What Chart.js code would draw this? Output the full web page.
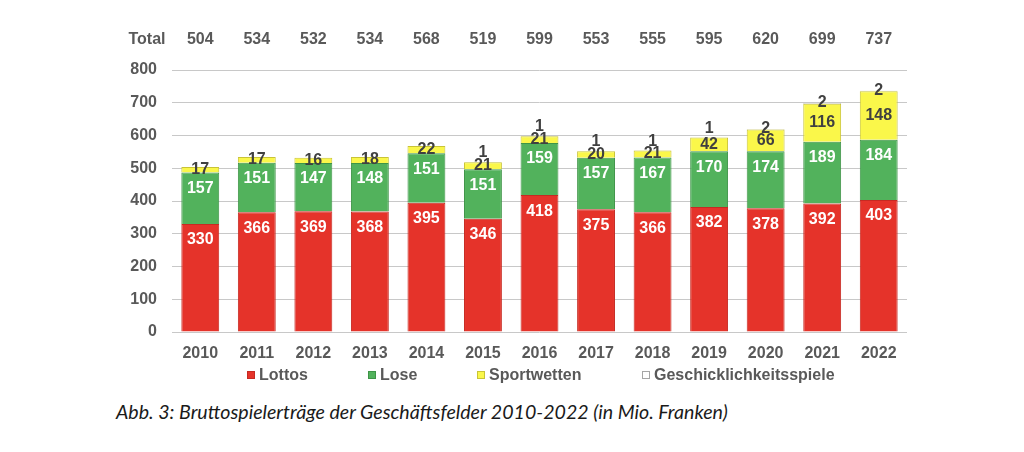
<!DOCTYPE html>
<html lang="de">
<head>
    <meta charset="UTF-8">
    <title>Bruttospielerträge der Geschäftsfelder</title>
    <script src="https://cdn.jsdelivr.net/npm/chart.js"></script>
    <style>
        body { margin: 0; background: #fff; }
        #wrap { position: relative; width: 1024px; height: 395px; }
        .caption {
            position: absolute; left: 116px; top: 400px;
            font-family: Lato, "Open Sans", sans-serif; font-style: italic;
            font-size: 19.6px; color: #1a1a1a; white-space: nowrap;
        }
    </style>
</head>
<body>
    <div id="wrap"><canvas id="chart"></canvas></div>
    <div class="caption">Abb. 3: Bruttospielerträge der Geschäftsfelder 2010-2022 (in Mio. Franken)</div>
    <script>
        const years = ['2010', '2011', '2012', '2013', '2014', '2015', '2016', '2017', '2018', '2019', '2020', '2021', '2022'];
        const lottos = [330, 366, 369, 368, 395, 346, 418, 375, 366, 382, 378, 392, 403];
        const lose = [157, 151, 147, 148, 151, 151, 159, 157, 167, 170, 174, 189, 184];
        const sportwetten = [17, 17, 16, 18, 22, 21, 21, 20, 21, 42, 66, 116, 148];
        const geschick = [0, 0, 0, 0, 0, 1, 1, 1, 1, 1, 2, 2, 2];
        const totals = [504, 534, 532, 534, 568, 519, 599, 553, 555, 595, 620, 699, 737];
        const yTicks = [0, 100, 200, 300, 400, 500, 600, 700, 800];

        const FONT = '"Liberation Sans", Arial, sans-serif';
        const GREY = '#595959';

        const series = [
            { label: 'Lottos', data: lottos, bg: '#E5332A', border: '#C62A22', text: '#ffffff' },
            { label: 'Lose', data: lose, bg: '#52B25C', border: '#3E9447', text: '#ffffff' },
            { label: 'Sportwetten', data: sportwetten, bg: '#FAF74A', border: '#C9C436', text: '#404040' },
            { label: 'Geschicklichkeitsspiele', data: geschick, bg: '#FFFFFF', border: '#A6A6A6', text: '#404040' }
        ];

        // value labels, totals row and legend
        const labelsPlugin = {
            id: 'labels',
            afterDatasetsDraw(chart) {
                const ctx = chart.ctx;
                const x = chart.scales.x;
                ctx.save();
                ctx.font = 'bold 16px ' + FONT;
                ctx.textAlign = 'center';
                ctx.textBaseline = 'middle';
                chart.data.datasets.forEach((ds, d) => {
                    const meta = chart.getDatasetMeta(d);
                    meta.data.forEach((bar, i) => {
                        const v = ds.data[i];
                        if (!v) return;
                        let y;
                        if (d < 2) y = bar.y + 16;
                        else if (d === 2) y = (bar.y + bar.base) / 2;
                        else y = bar.y - (sportwetten[i] < 50 ? 9 : 0);
                        ctx.fillStyle = series[d].text;
                        ctx.fillText(v, bar.x, y);
                    });
                });
                // totals row
                ctx.fillStyle = GREY;
                ctx.fillText('Total', 147, 40);
                totals.forEach((t, i) => ctx.fillText(t, x.getPixelForValue(i), 40));
                // legend
                const legendX = [247, 368, 477, 642];
                ctx.textAlign = 'left';
                series.forEach((s, i) => {
                    ctx.fillStyle = s.bg;
                    ctx.strokeStyle = s.border;
                    ctx.lineWidth = 1;
                    ctx.fillRect(legendX[i], 371, 8, 8);
                    ctx.strokeRect(legendX[i] + 0.5, 371.5, 7, 7);
                    ctx.fillStyle = GREY;
                    ctx.fillText(s.label, legendX[i] + 12, 376);
                });
                ctx.restore();
            }
        };

        new Chart(document.getElementById('chart'), {
            type: 'bar',
            data: {
                labels: years,
                datasets: series.map(s => ({
                    label: s.label,
                    data: s.data,
                    backgroundColor: s.bg,
                    borderColor: s.border,
                    borderWidth: 1,
                    barPercentage: 0.67,
                    categoryPercentage: 1
                }))
            },
            options: {
                responsive: true,
                maintainAspectRatio: false,
                animation: false,
                layout: { padding: { left: 0, right: 117, top: 70, bottom: 23 } },
                plugins: {
                    legend: { display: false },
                    tooltip: { enabled: false }
                },
                scales: {
                    x: {
                        stacked: true,
                        grid: { display: false },
                        border: { display: false },
                        ticks: { color: GREY, font: { family: FONT, size: 16, weight: 'bold' }, padding: 4 },
                        afterFit: s => { s.height = 40; }
                    },
                    y: {
                        stacked: true,
                        min: 0,
                        max: 800,
                        afterBuildTicks: s => { s.ticks = yTicks.map(v => ({ value: v })); },
                        grid: { color: '#C8C8C8', lineWidth: 1, drawTicks: false },
                        border: { display: false },
                        ticks: { color: GREY, font: { family: FONT, size: 16, weight: 'bold' }, padding: 15 },
                        afterFit: s => { s.width = 172; }
                    }
                }
            },
            plugins: [labelsPlugin]
        });
    </script>
</body>
</html>
